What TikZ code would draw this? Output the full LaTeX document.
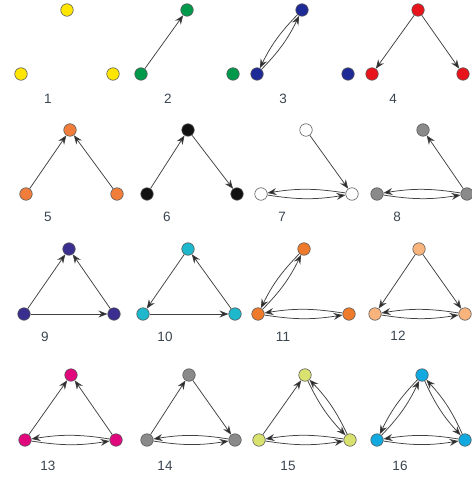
\documentclass[tikz,border=0pt]{standalone}
\usepackage{fontspec}
\setmainfont{Liberation Sans}
\usetikzlibrary{arrows.meta}
\definecolor{cyel}{HTML}{FFE600}
\definecolor{cgrn}{HTML}{00994C}
\definecolor{cnavy}{HTML}{1E2A96}
\definecolor{cred}{HTML}{E8141C}
\definecolor{corg}{HTML}{F07E3A}
\definecolor{cblk}{HTML}{111111}
\definecolor{cwht}{HTML}{FFFFFF}
\definecolor{cgry}{HTML}{8A8A8A}
\definecolor{cind}{HTML}{3A2E8E}
\definecolor{ccyan}{HTML}{1FB7CB}
\definecolor{corg2}{HTML}{EE7A2C}
\definecolor{cpeach}{HTML}{F8B47C}
\definecolor{cmag}{HTML}{E0067C}
\definecolor{clime}{HTML}{D9E26E}
\definecolor{csky}{HTML}{12A9E0}
\definecolor{labc}{HTML}{3A4550}
\definecolor{edgec}{HTML}{404040}
\newcommand\motif[9]{%
  \node[vtx,fill=#7] (T#1) at (#3,#5) {};
  \node[vtx,fill=#7] (L#1) at (#2,#6) {};
  \node[vtx,fill=#7] (R#1) at (#4,#6) {};
  \node[lab] (N#1) at (#8,#9) {#1};}
\begin{document}
\begin{tikzpicture}[x=1pt,y=-1pt,
  vtx/.style={circle,draw=black!65,line width=0.6pt,minimum size=12.5pt,inner sep=0pt},
  arr/.style={draw=edgec,line width=0.75pt,-{Stealth[length=9pt,width=7pt,inset=3pt,fill=black!85]}},
  dbl/.style={arr,bend right=9},
  lab/.style={font=\fontsize{13.5}{14}\selectfont,text=labc,inner sep=0pt}]
\useasboundingbox (0,0) rectangle (471,481);
% row 1
\motif{1}{21}{67}{113}{10}{74}{cyel}{48}{99}
\motif{2}{141}{187}{233}{10}{74}{cgrn}{168}{99}
\motif{3}{257}{302}{348}{10}{74}{cnavy}{283}{99}
\motif{4}{372}{418}{463}{10}{74}{cred}{393}{99}
% row 2
\motif{5}{26}{70}{117}{130}{194}{corg}{48}{217}
\motif{6}{147}{188}{237}{130}{194}{cblk}{167}{217}
\motif{7}{261}{306}{352}{130}{194}{cwht}{282}{217}
\motif{8}{377}{423}{467}{130}{194}{cgry}{397}{217}
% row 3
\motif{9}{24}{69}{114}{249}{314}{cind}{45}{337}
\motif{10}{143}{188}{235}{249}{314}{ccyan}{165}{337}
\motif{11}{258}{304}{349}{249}{314}{corg2}{283}{337}
\motif{12}{375}{419}{465}{249}{314}{cpeach}{398}{336}
% row 4
\motif{13}{25}{71}{116}{375}{440}{cmag}{48}{466}
\motif{14}{147}{189}{235}{375}{440}{cgry}{165}{466}
\motif{15}{259}{305}{350}{375}{440}{clime}{288}{466}
\motif{16}{377}{422}{465}{375}{440}{csky}{400}{466}
% edges
\draw[arr] (L2) -- (T2);
\draw[dbl] (L3) to (T3); \draw[dbl] (T3) to (L3);
\draw[arr] (T4) -- (L4); \draw[arr] (T4) -- (R4);
\draw[arr] (L5) -- (T5); \draw[arr] (R5) -- (T5);
\draw[arr] (L6) -- (T6); \draw[arr] (T6) -- (R6);
\draw[arr] (T7) -- (R7); \draw[dbl] (L7) to (R7); \draw[dbl] (R7) to (L7);
\draw[arr] (R8) -- (T8); \draw[dbl] (L8) to (R8); \draw[dbl] (R8) to (L8);
\draw[arr] (L9) -- (T9); \draw[arr] (R9) -- (T9); \draw[arr] (L9) -- (R9);
\draw[arr] (T10) -- (L10); \draw[arr] (L10) -- (R10); \draw[arr] (R10) -- (T10);
\draw[dbl] (L11) to (T11); \draw[dbl] (T11) to (L11);
\draw[dbl] (L11) to (R11); \draw[dbl] (R11) to (L11);
\draw[arr] (T12) -- (L12); \draw[arr] (T12) -- (R12);
\draw[dbl] (L12) to (R12); \draw[dbl] (R12) to (L12);
\draw[arr] (L13) -- (T13); \draw[arr] (R13) -- (T13);
\draw[dbl] (L13) to (R13); \draw[dbl] (R13) to (L13);
\draw[arr] (L14) -- (T14); \draw[arr] (T14) -- (R14);
\draw[dbl] (L14) to (R14); \draw[dbl] (R14) to (L14);
\draw[arr] (L15) -- (T15);
\draw[dbl] (T15) to (R15); \draw[dbl] (R15) to (T15);
\draw[dbl] (L15) to (R15); \draw[dbl] (R15) to (L15);
\draw[dbl] (T16) to (L16); \draw[dbl] (L16) to (T16);
\draw[dbl] (T16) to (R16); \draw[dbl] (R16) to (T16);
\draw[dbl] (L16) to (R16); \draw[dbl] (R16) to (L16);
\end{tikzpicture}
\end{document}
